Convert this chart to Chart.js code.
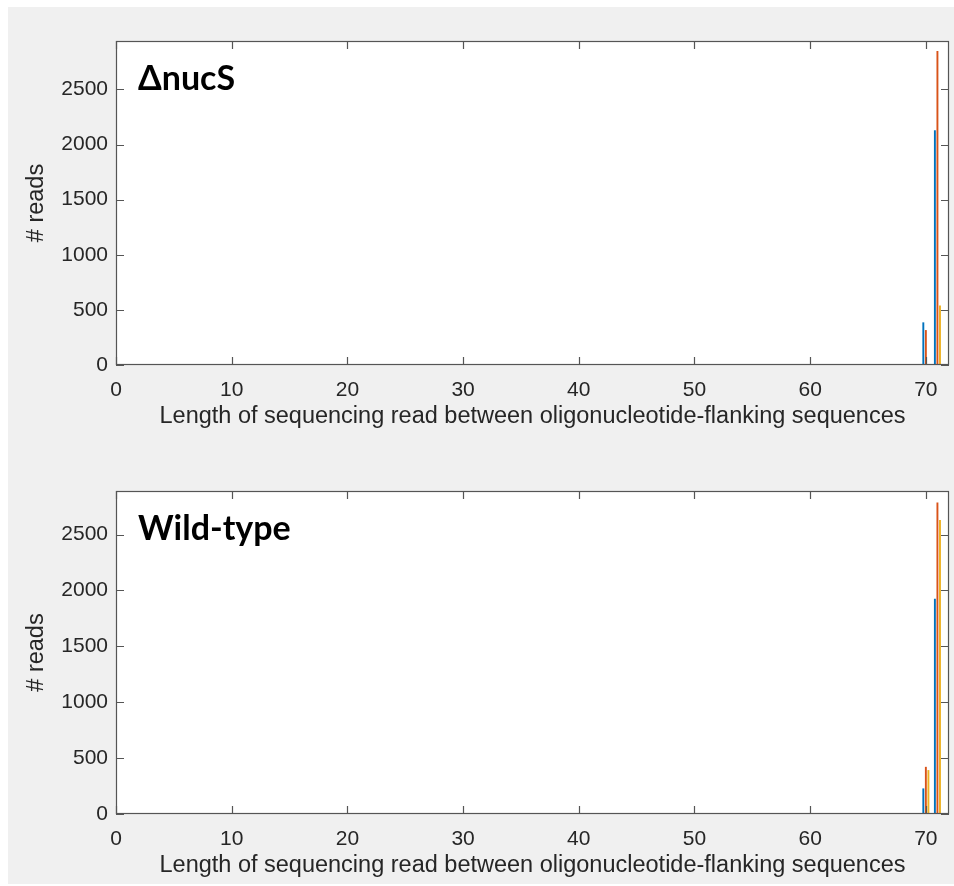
<!DOCTYPE html>
<html>
<head>
<meta charset="utf-8">
<script src="https://cdn.jsdelivr.net/npm/chart.js@4/dist/chart.umd.min.js"></script>
<style>
  body { margin: 0; background: #fff; width: 954px; height: 886px; position: relative; overflow: hidden; }
  #fig { position: absolute; left: 8px; top: 7px; width: 946px; height: 877px; background: #f0f0f0; }
  canvas { position: absolute; left: 0; }
  #top { top: 0; }
  #bottom { top: 445px; }
</style>
</head>
<body>
<div id="fig"></div>
<canvas id="top" width="954" height="445"></canvas>
<canvas id="bottom" width="954" height="441"></canvas>
<script>
// read lengths (x) and read counts for the three samples in each panel
const lengths = [70, 71];
const nucsSeries1 = [387, 2130];
const nucsSeries2 = [317, 2850];
const nucsSeries3 = [0, 540];
const wtSeries1 = [229, 1926];
const wtSeries2 = [422, 2788];
const wtSeries3 = [393, 2631];
const xTicks = [0, 10, 20, 30, 40, 50, 60, 70];
const yTicks = [0, 500, 1000, 1500, 2000, 2500];
const barColors = ['#0072BD', '#D95319', '#EDB120'];

const axisColor = '#262626';
const tickFont = { family: "'Liberation Sans', Arial, sans-serif", size: 21 };
const labelFont = { family: "'Liberation Sans', Arial, sans-serif", size: 23.5 };

const boxPlugin = {
    id: 'matlabBox',
    beforeDraw(chart) {
        const { ctx, chartArea: a } = chart;
        ctx.save();
        ctx.fillStyle = '#fff';
        ctx.fillRect(a.left, a.top, a.right - a.left, a.bottom - a.top);
        ctx.restore();
    },
    afterDraw(chart) {
        const { ctx, chartArea: a, scales } = chart;
        ctx.save();
        ctx.strokeStyle = '#555';
        ctx.lineWidth = 1.2;
        ctx.strokeRect(a.left + 0.5, a.top + 0.5, a.right - a.left - 1, a.bottom - a.top - 1);
        ctx.beginPath();
        scales.x.ticks.forEach(t => {
            const px = Math.round(scales.x.getPixelForValue(t.value)) + 0.5;
            ctx.moveTo(px, a.bottom); ctx.lineTo(px, a.bottom - 8);
            ctx.moveTo(px, a.top); ctx.lineTo(px, a.top + 8);
        });
        scales.y.ticks.forEach(t => {
            const py = Math.round(scales.y.getPixelForValue(t.value)) + 0.5;
            ctx.moveTo(a.left, py); ctx.lineTo(a.left + 8, py);
            ctx.moveTo(a.right, py); ctx.lineTo(a.right - 8, py);
        });
        ctx.stroke();
        // panel label
        ctx.fillStyle = '#000';
        ctx.font = "bold 34px Lato, 'Open Sans', sans-serif";
        ctx.textBaseline = 'alphabetic';
        ctx.fillText(chart.options.plugins.matlabBox.label, a.left + 22, a.top + 49);
        ctx.restore();
    }
};

function makeChart(id, series, yMax, padTop, padBottom, label) {
    const ctx = document.getElementById(id);
    const datasets = series.map((vals, i) => ({
        label: 'Series ' + (i + 1),
        data: lengths.map((x, j) => ({ x: x, y: vals[j] })),
        backgroundColor: barColors[i],
        borderWidth: 0,
        categoryPercentage: 0.66,
        barPercentage: 0.75
    }));

    const options = {
        responsive: false,
        animation: false,
        layout: { padding: { top: padTop, right: 5, left: 0, bottom: padBottom } },
        scales: {
            x: {
                type: 'linear',
                min: 0, max: 72,
                offset: false,
                grid: { display: false },
                border: { display: false },
                afterBuildTicks: s => { s.ticks = xTicks.map(v => ({ value: v })); },
                afterFit: s => { s.height = 66; },
                ticks: { color: axisColor, font: tickFont, padding: 5, maxRotation: 0, callback: v => String(v) },
                title: {
                    display: true,
                    text: 'Length of sequencing read between oligonucleotide-flanking sequences',
                    color: axisColor, font: labelFont, padding: 0
                }
            },
            y: {
                min: 0, max: yMax,
                grid: { display: false },
                border: { display: false },
                afterBuildTicks: s => { s.ticks = yTicks.map(v => ({ value: v })); },
                afterFit: s => { s.width = 116; },
                ticks: { color: axisColor, font: tickFont, padding: 0, callback: v => String(v) },
                title: {
                    display: true, text: '# reads',
                    color: axisColor, font: labelFont, padding: { top: 22, bottom: 0 }
                }
            }
        },
        plugins: {
            legend: { display: false },
            tooltip: { enabled: false },
            matlabBox: { label: label }
        }
    };

    new Chart(ctx, { type: 'bar', data: { datasets }, options, plugins: [boxPlugin] });
}

document.addEventListener("DOMContentLoaded", function () {
    makeChart('top', [nucsSeries1, nucsSeries2, nucsSeries3], 2940, 41, 14, 'ΔnucS');
    makeChart('bottom', [wtSeries1, wtSeries2, wtSeries3], 2890, 46, 6, 'Wild-type');
});
</script>
</body>
</html>
